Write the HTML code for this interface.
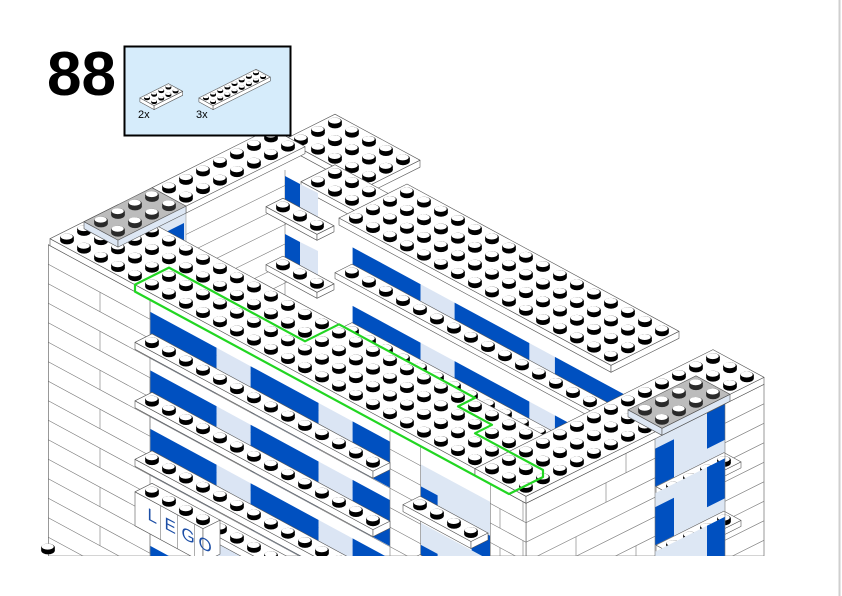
<!DOCTYPE html>
<html><head><meta charset="utf-8"><style>
html,body{margin:0;padding:0;background:#fff;width:842px;height:596px;overflow:hidden}
svg{display:block}
</style></head><body>
<svg id="s" xmlns="http://www.w3.org/2000/svg" width="842" height="596" viewBox="0 0 842 596">
<defs><clipPath id="crop"><rect x="0" y="0" width="842" height="556"/></clipPath></defs>
<rect width="842" height="596" fill="#fff"/>
<line x1="839.5" y1="0" x2="839.5" y2="596" stroke="#cfcfcf" stroke-width="2"/>
<g id="main" clip-path="url(#crop)"></g>
<text x="47" y="95" font-family="Liberation Sans, sans-serif" font-weight="bold" font-size="62" fill="#000">88</text>
<rect x="124.5" y="46.5" width="166" height="89" fill="#d6ecfb" stroke="#000" stroke-width="2"/>
<g id="parts"></g>
<text x="138" y="118" font-family="Liberation Sans, sans-serif" font-size="11" fill="#000">2x</text>
<text x="196" y="118" font-family="Liberation Sans, sans-serif" font-size="11" fill="#000">3x</text>
</svg>
<script>
const NS='http://www.w3.org/2000/svg';
let G=document.getElementById('main');
function el(t,a,p){const e=document.createElementNS(NS,t);for(const k in a)e.setAttribute(k,a[k]);(p||G).appendChild(e);return e;}
function pts(a){return a.map(p=>p[0].toFixed(1)+','+p[1].toFixed(1)).join(' ');}
function poly(a,fill,stroke,sw){return el('polygon',{points:pts(a),fill:fill||'#fff',stroke:stroke||'#555','stroke-width':sw||0.6,'stroke-linejoin':'round'});}
const AX=[17,9.2],BX=[17,-8.5];
function stud(x,y,s,c){
 c=c||'#000';
 el('ellipse',{cx:x,cy:y+1.5*s,rx:6.8*s,ry:3.9*s,fill:c});
 el('rect',{x:x-6.8*s,y:y-1.5*s,width:13.6*s,height:3*s,fill:c});
 el('ellipse',{cx:x,cy:y-1.5*s,rx:6.8*s,ry:3.9*s,fill:c});
 el('ellipse',{cx:x-0.3*s,cy:y-2.4*s,rx:6*s,ry:3*s,fill:'#fff'});
}
function plate(o,ni,nj,th,opt){
 opt=opt||{};const s=opt.s||1;const A=[AX[0]*s,AX[1]*s],B=[BX[0]*s,BX[1]*s];
 const P=(i,j)=>[o[0]+i*A[0]+j*B[0],o[1]+i*A[1]+j*B[1]];
 const c1=P(-.5,-.5),c2=P(ni-.5,-.5),c3=P(ni-.5,nj-.5),c4=P(-.5,nj-.5);
 const d=p=>[p[0],p[1]+th];
 const side=opt.side||'#fff';
 poly([c1,c2,d(c2),d(c1)],side);
 poly([c2,c3,d(c3),d(c2)],side);
 poly([c1,c2,c3,c4],opt.top||'#fff');
 let list=[];
 for(let i=0;i<ni;i++)for(let j=0;j<nj;j++){if(opt.skip&&opt.skip(i,j))continue;list.push(P(i,j));}
 list.sort((a,b)=>a[1]-b[1]);
 for(const p of list)stud(p[0],p[1],s,opt.sc);
}
const O=[152,285];
function L(i,j){return [O[0]+17*(i+j),O[1]+9.2*i-8.5*j];}
function add(p,dy){return [p[0],p[1]+dy];}

/* ---- parts box ---- */
G=document.getElementById('parts');
plate([147,98],2,4,4,{s:0.42});
plate([206,98],2,8,4,{s:0.42});
G=document.getElementById('main');

/* ---- back structure ---- */
plate([301,140],5,3,7);
plate([318,182],6,2,7);
for(let k=0;k<8;k++){const y=205+k*19.5;el('line',{x1:185,y1:y+30,x2:290,y2:y-22,stroke:'#777','stroke-width':0.6});}
el('line',{x1:285,y1:170,x2:285,y2:300,stroke:'#777','stroke-width':0.6});
poly([[285,176],[300,184],[300,212],[285,204]],'#0050c0','none');
poly([[300,184],[318,193],[318,221],[300,212]],'#dbe5f4','none');
poly([[285,234],[300,242],[300,270],[285,262]],'#0050c0','none');
poly([[300,242],[318,251],[318,279],[300,270]],'#dbe5f4','none');
plate([283,207],3,1,6);
plate([283,265],3,1,6);
function bandB(i1,i2,t,h,fill){
 const x=i=>313.5+17*i,y=i=>204.25+9.2*i;
 poly([[x(i1),y(i1)+t],[x(i2),y(i2)+t],[x(i2),y(i2)+t+h],[x(i1),y(i1)+t+h]],fill,'none');
}
for(let k=0;k<4;k++){
 const t=22+58.5*k;
 bandB(2.3,6.3,t,28,'#0050c0');bandB(6.3,8.3,t,28,'#dbe5f4');
 bandB(8.3,12.7,t,28,'#0050c0');bandB(12.7,14.2,t,28,'#dbe5f4');
 bandB(14.2,18.5,t,28,'#0050c0');
 plate([352,273+58.5*k],16,1,6);
}
plate(L(2,10),16,4,7);

/* ---- left wall ---- */
plate(L(-5,6),2,7,7);
/* translucent face of gray block into courtyard */
(function(){const a=L(-3.5,1.5),b=L(-3.5,5.5);
 poly([a,b,add(b,40),add(a,40)],'#dde7f4','#999');
 poly([[166,232],[184,223],[184,262],[166,271]],'#0050c0','none');
})();

/* ---- right facade ---- */
const BOT=556;
const RF0=add(L(22.5,-0.5),7),RF1=add(L(22.5,13.5),7);
poly([RF0,RF1,[RF1[0],BOT],[RF0[0],BOT]],'#fff','#555');
(function(){const g=el('g',{});const cp=el('clipPath',{id:'crf'});
 el('polygon',{points:pts([RF0,RF1,[RF1[0],BOT],[RF0[0],BOT]])},cp);
 g.setAttribute('clip-path','url(#crf)');
 for(let k=0;k<10;k++){const y=RF0[1]+k*19.5;el('line',{x1:RF0[0],y1:y,x2:RF1[0],y2:y-(RF1[0]-RF0[0])*0.5,stroke:'#777','stroke-width':0.6},g);}
 for(let k=0;k<10;k++){const x=RF0[0]+((k%2)?50:100)+(k%3)*30;const y=RF0[1]-(x-RF0[0])*0.5+k*19.5;el('line',{x1:x,y1:y,x2:x,y2:y+19.5,stroke:'#777','stroke-width':0.6},g);}
})();
function yr(x){return RF0[1]-0.5*(x-RF0[0]);}
function bandR(x1,x2,t,h,fill){poly([[x1,yr(x1)+t],[x2,yr(x2)+t],[x2,yr(x2)+t+h],[x1,yr(x1)+t+h]],fill,'none');}
for(let k=0;k<3;k++){
 const t=-4+58.5*k;
 bandR(655,725,t,52,'#dde7f4');
 bandR(655,674,t+14,38,'#0050c0');
 bandR(707,725,t,40,'#0050c0');
 plate([673,487+58.5*k],1,4,6);
}
el('line',{x1:655,y1:yr(655),x2:655,y2:BOT,stroke:'#777','stroke-width':0.6});
el('line',{x1:725,y1:yr(725),x2:725,y2:BOT,stroke:'#777','stroke-width':0.6});

/* ---- front facade ---- */
const FF0=add(L(-5.6,-0.5),7);
poly([FF0,RF0,[RF0[0],BOT],[FF0[0],BOT]],'#fff','#555');
(function(){const g=el('g',{});const cp=el('clipPath',{id:'cff'});
 el('polygon',{points:pts([FF0,RF0,[RF0[0],BOT],[FF0[0],BOT]])},cp);
 g.setAttribute('clip-path','url(#cff)');
 const sl=(RF0[1]-FF0[1])/(RF0[0]-FF0[0]);
 for(let k=0;k<17;k++){const y=FF0[1]+k*19.5;el('line',{x1:FF0[0],y1:y,x2:RF0[0],y2:y+(RF0[0]-FF0[0])*sl,stroke:'#777','stroke-width':0.6},g);}
 for(let k=0;k<16;k++){const x=(k%2)?100:150;const y=FF0[1]+(x-FF0[0])*sl+k*19.5;el('line',{x1:x,y1:y,x2:x,y2:y+19.5,stroke:'#777','stroke-width':0.6},g);}
 for(let k=0;k<16;k++){const x=(k%2)?500:523;const y=FF0[1]+(x-FF0[0])*sl+k*19.5;el('line',{x1:x,y1:y,x2:x,y2:y+19.5,stroke:'#777','stroke-width':0.6},g);}
})();
function yf(i){return 296.25+9.2*i;} function xf(i){return 143.5+17*i;}
function bandF(i1,i2,t,h,fill){poly([[xf(i1),yf(i1)+t],[xf(i2),yf(i2)+t],[xf(i2),yf(i2)+t+h],[xf(i1),yf(i1)+t+h]],fill,'none');}
for(let k=0;k<5;k++){
 const t=12+58.5*k;
 bandF(0.4,4.3,t,46,'#0050c0');bandF(4.3,6.3,t,46,'#dbe5f4');
 bandF(6.3,10.3,t,46,'#0050c0');bandF(10.3,12.3,t,46,'#dbe5f4');
 bandF(12.3,14.5,t,46,'#0050c0');
 bandF(16.3,20.4,t+6,52,'#dde7f4');
 bandF(16.3,17.3,t+28,30,'#0050c0');
 bandF(19.3,20.4,t+40,30,'#0050c0');
}
el('line',{x1:150,y1:300,x2:150,y2:BOT,stroke:'#777','stroke-width':0.6});
el('line',{x1:xf(14.5),y1:yf(14.5),x2:xf(14.5),y2:BOT,stroke:'#777','stroke-width':0.6});
el('line',{x1:xf(16.3),y1:yf(16.3),x2:xf(16.3),y2:BOT,stroke:'#777','stroke-width':0.6});
el('line',{x1:xf(20.4),y1:yf(20.4),x2:xf(20.4),y2:BOT,stroke:'#777','stroke-width':0.6});
for(let k=0;k<5;k++){
 if(k===3){
  const o=add(L(1,-1),40+58.5*k-26);
  plate(add(L(5,-1),40+58.5*k-26),10,1,7);
  // LEGO sign brick
  plate(o,4,1,34);
  for(let n=0;n<4;n++){
   const x=o[0]-8.5+17*n+4, y=o[1]+4+9.2*n+23;
   if(n>0)el('line',{x1:o[0]-8.5+17*n,y1:o[1]+4+9.2*n,x2:o[0]-8.5+17*n,y2:o[1]+4+9.2*n+34,stroke:'#777','stroke-width':0.6});
   const t=el('text',{x:0,y:0,'font-family':'Liberation Sans, sans-serif','font-size':'17',fill:'#1c4ea6',transform:`translate(${x},${y}) skewY(28)`});
   t.textContent=['L','E','G','O'][n];
  }
  continue;
 }
 plate(add(L(1,-1),40+58.5*k),14,1,7);
}
for(let k=0;k<2;k++)plate([420,505+58.5*k],4,1,7);
stud(48,549,1);

/* ---- front band & right wall ---- */
plate(L(-5,0),25,4,7,{skip:(i,j)=>i<2&&j>=2});
plate(L(-5,2),2,4,7,{top:'#bcbcbc',sc:'#2a2a2a',side:'#dde7f4'});
plate(L(20,0),3,14,7,{skip:(i,j)=>i>=1&&j>=8&&j<=11});
plate(L(21,8),2,4,7,{top:'#bcbcbc',sc:'#2a2a2a',side:'#dde7f4'});

/* ---- green outline ---- */
(function(){
 const top=[[-0.5,-0.5],[-0.5,1.5],[7.5,1.5],[7.5,3.5],[15.5,3.5],[15.5,2.5],[17.5,2.5],[17.5,1.5],[21.5,1.5]].map(p=>L(p[0],p[1]));
 const pts2=top.concat([add(L(21.5,1.5),7),add(L(21.5,-0.5),7),add(L(-0.5,-0.5),7)]);
 el('polygon',{points:pts(pts2),fill:'none',stroke:'#22d622','stroke-width':2.2,'stroke-linejoin':'round'});
})();
</script>
</body></html>
